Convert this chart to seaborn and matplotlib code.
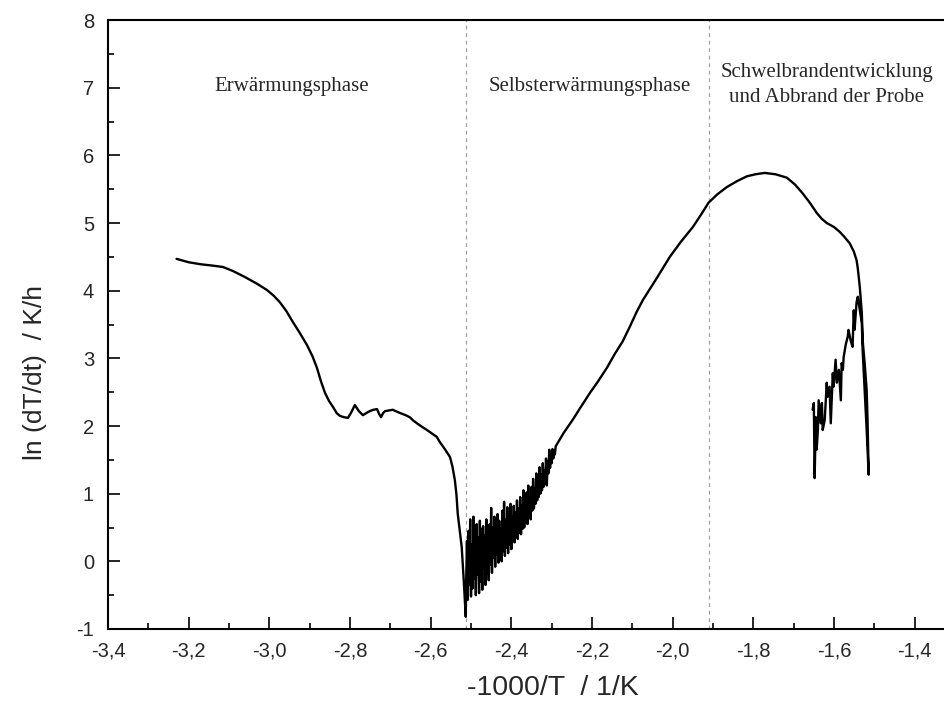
import matplotlib
matplotlib.use("Agg")
import matplotlib.pyplot as plt
import seaborn as sns
import pandas as pd
from matplotlib.ticker import MultipleLocator, FuncFormatter

# ---- data ----
heat_x = [-3.230, -3.200, -3.170, -3.140, -3.115, -3.090, -3.060, -3.030, -3.006, -2.990,
          -2.974, -2.958, -2.942, -2.925, -2.907, -2.893, -2.882, -2.872, -2.862, -2.852,
          -2.842, -2.833, -2.825, -2.815, -2.805, -2.797, -2.788, -2.778, -2.768, -2.760,
          -2.751, -2.742, -2.733, -2.728, -2.723, -2.718, -2.713, -2.704, -2.694, -2.683,
          -2.671, -2.662, -2.652, -2.643, -2.634, -2.622, -2.609, -2.597, -2.585, -2.577,
          -2.565, -2.552, -2.546, -2.540, -2.536, -2.533, -2.528, -2.523, -2.518, -2.513]
heat_y = [4.47, 4.42, 4.39, 4.37, 4.35, 4.29, 4.20, 4.10, 4.01, 3.93,
          3.83, 3.70, 3.54, 3.38, 3.20, 3.03, 2.86, 2.66, 2.49, 2.37,
          2.28, 2.19, 2.15, 2.13, 2.12, 2.20, 2.31, 2.22, 2.16, 2.19,
          2.22, 2.24, 2.25, 2.18, 2.13, 2.19, 2.22, 2.23, 2.24, 2.21,
          2.18, 2.16, 2.13, 2.08, 2.04, 1.99, 1.94, 1.89, 1.84, 1.76,
          1.66, 1.54, 1.40, 1.20, 0.98, 0.71, 0.46, 0.21, -0.28, -0.82]

self_noise_pts = [
    (-2.512, -0.30), (-2.510, 0.30), (-2.508, -0.57), (-2.506, 0.45), (-2.504, -0.35),
    (-2.502, 0.62), (-2.500, -0.52), (-2.498, 0.25), (-2.496, -0.40), (-2.494, 0.66),
    (-2.492, -0.25), (-2.490, 0.40), (-2.488, -0.50), (-2.486, 0.55), (-2.484, -0.20),
    (-2.482, 0.35), (-2.480, -0.47), (-2.478, 0.60), (-2.476, -0.30), (-2.474, 0.48),
    (-2.472, -0.42), (-2.470, 0.52), (-2.468, -0.10), (-2.466, 0.38), (-2.464, -0.35),
    (-2.462, 0.62), (-2.460, -0.18), (-2.458, 0.45), (-2.456, -0.28), (-2.454, 0.55),
    (-2.452, -0.05), (-2.450, 0.79), (-2.448, -0.17), (-2.446, 0.50), (-2.444, 0.05),
    (-2.442, 0.66), (-2.440, -0.08), (-2.438, 0.58), (-2.436, 0.10), (-2.434, 0.70),
    (-2.432, -0.02), (-2.430, 0.60), (-2.428, 0.12), (-2.426, 0.48), (-2.424, 0.00),
    (-2.422, 0.75), (-2.420, 0.15), (-2.418, 0.88), (-2.416, 0.08), (-2.414, 0.62),
    (-2.412, 0.20), (-2.410, 0.80), (-2.408, 0.12), (-2.406, 0.70), (-2.404, 0.25),
    (-2.402, 0.85), (-2.400, 0.18), (-2.398, 0.66), (-2.396, 0.30), (-2.394, 0.82),
    (-2.392, 0.28), (-2.390, 0.72), (-2.388, 0.36), (-2.386, 0.90), (-2.384, 0.33),
    (-2.382, 0.78), (-2.380, 0.42), (-2.378, 0.95), (-2.376, 0.40), (-2.374, 0.82),
    (-2.372, 0.48), (-2.370, 1.05), (-2.368, 0.50), (-2.366, 0.88), (-2.364, 0.58),
    (-2.362, 1.02), (-2.360, 0.55), (-2.358, 1.12), (-2.356, 0.66), (-2.354, 0.96),
    (-2.352, 0.62), (-2.350, 1.10), (-2.348, 0.75), (-2.346, 1.22), (-2.344, 0.78),
    (-2.342, 1.08), (-2.340, 0.85), (-2.338, 1.30), (-2.336, 0.90), (-2.334, 1.20),
    (-2.332, 0.95), (-2.330, 1.39), (-2.328, 1.00), (-2.326, 1.28), (-2.324, 1.05),
    (-2.322, 1.45), (-2.320, 1.10), (-2.318, 1.35), (-2.316, 1.15), (-2.314, 1.52),
    (-2.312, 1.12), (-2.310, 1.48), (-2.308, 1.30), (-2.306, 1.65), (-2.304, 1.38),
    (-2.302, 1.58), (-2.300, 1.45), (-2.298, 1.66), (-2.296, 1.52), (-2.294, 1.64),
    (-2.292, 1.58), (-2.290, 1.70),
]

rise_x = [-2.270, -2.248, -2.230, -2.205, -2.185, -2.163, -2.143, -2.124, -2.106, -2.089,
          -2.074, -2.040, -2.007, -1.980, -1.950, -1.930, -1.911, -1.890, -1.866, -1.840,
          -1.816, -1.795, -1.772, -1.745, -1.717, -1.697, -1.678, -1.660, -1.643, -1.630,
          -1.618, -1.600, -1.586, -1.575, -1.561, -1.551, -1.544, -1.541]
rise_y = [1.90, 2.09, 2.26, 2.49, 2.66, 2.86, 3.07, 3.25, 3.47, 3.69,
          3.86, 4.18, 4.50, 4.72, 4.94, 5.12, 5.30, 5.42, 5.53, 5.62,
          5.69, 5.72, 5.74, 5.72, 5.67, 5.57, 5.44, 5.30, 5.15, 5.06,
          5.00, 4.94, 4.87, 4.80, 4.70, 4.58, 4.45, 4.33]

burn_x = [-1.536, -1.531, -1.529, -1.524, -1.519, -1.517, -1.514, -1.519, -1.524, -1.529,
          -1.531, -1.536, -1.541, -1.544, -1.549, -1.551, -1.554, -1.559, -1.564, -1.566,
          -1.571, -1.576, -1.578, -1.581, -1.583, -1.588, -1.593, -1.596, -1.601, -1.603,
          -1.608, -1.611, -1.616, -1.618, -1.623, -1.628, -1.630, -1.633, -1.638, -1.640,
          -1.643, -1.645, -1.648, -1.650, -1.653]
burn_y = [4.05, 3.67, 3.27, 2.93, 2.53, 2.13, 1.28, 1.94, 2.53, 3.12,
          3.52, 3.71, 3.91, 3.83, 3.42, 3.71, 3.17, 3.27, 3.42, 3.32,
          3.20, 3.02, 2.83, 2.93, 2.38, 2.83, 2.64, 2.98, 2.58, 2.78,
          2.04, 2.58, 2.43, 2.64, 2.09, 1.94, 2.34, 2.04, 2.38, 1.94,
          1.65, 2.13, 1.23, 2.34, 2.24]

phase_bounds = [-2.513, -1.911]
phase_labels = ["Erwärmungsphase", "Selbsterwärmungsphase",
                "Schwelbrandentwicklung\nund Abbrand der Probe"]
phase_label_x = [-2.944, -2.205, -1.618]
phase_label_y = [7.01, 7.01, 7.04]

x_label = "-1000/T  / 1/K"
y_label = "ln (dT/dt)  / K/h"

noise_x = [p[0] for p in self_noise_pts]
noise_y = [p[1] for p in self_noise_pts]
df = pd.DataFrame({
    "x": heat_x + noise_x + rise_x + burn_x,
    "y": heat_y + noise_y + rise_y + burn_y,
})

# ---- styling ----
sns.set_style("ticks")
plt.rcParams["font.family"] = ["Liberation Sans", "DejaVu Sans"]

W, H = 945, 708
fig = plt.figure(figsize=(W / 100, H / 100), dpi=100)
left, right, top, bottom = 108, 955, 20, 629
ax = fig.add_axes([left / W, (H - bottom) / H, (right - left) / W, (bottom - top) / H])

sns.lineplot(data=df, x="x", y="y", sort=False, estimator=None, color="black",
             linewidth=1.7, ax=ax)

for xb in phase_bounds:
    ax.axvline(xb, color="#a0a0a0", linestyle=(0, (3, 3)), linewidth=0.9, zorder=0)

for lbl, lx, ly in zip(phase_labels, phase_label_x, phase_label_y):
    ax.text(lx, ly, lbl, ha="center", va="center", fontsize=15,
            family=["Liberation Serif", "DejaVu Serif"], linespacing=1.4)

ax.set_xlim(-3.4, -1.3)
ax.set_ylim(-1, 8)
ax.xaxis.set_major_locator(MultipleLocator(0.2))
ax.xaxis.set_minor_locator(MultipleLocator(0.1))
ax.yaxis.set_major_locator(MultipleLocator(1))
ax.yaxis.set_minor_locator(MultipleLocator(0.5))
ax.xaxis.set_major_formatter(FuncFormatter(lambda v, p: f"{v:.1f}".replace(".", ",")))
ax.yaxis.set_major_formatter(FuncFormatter(lambda v, p: f"{v:.0f}"))
ax.tick_params(which="major", direction="in", length=8.5, width=1.4, labelsize=14.5)
ax.tick_params(which="minor", direction="in", length=4.5, width=1.4)
ax.tick_params(axis="x", which="major", pad=9)
ax.tick_params(axis="y", which="major", pad=10)
ax.tick_params(axis="x", which="both", top=False)
ax.tick_params(axis="y", which="both", right=False)

for s in ["left", "bottom", "top"]:
    ax.spines[s].set_linewidth(1.5)
    ax.spines[s].set_color("black")
ax.spines["right"].set_visible(False)

ax.set_xlabel(x_label, fontsize=20.5)
ax.set_ylabel(y_label, fontsize=19)
ax.xaxis.set_label_coords((553 - left) / (right - left), -(688 - bottom) / (bottom - top),
                          transform=ax.transAxes)
ax.yaxis.set_label_coords(-(108 - 35) / (right - left), (bottom - 372) / (bottom - top),
                          transform=ax.transAxes)
ax.xaxis.label.set_va("center")
ax.yaxis.label.set_va("center")

fig.savefig("out.png", dpi=100)
